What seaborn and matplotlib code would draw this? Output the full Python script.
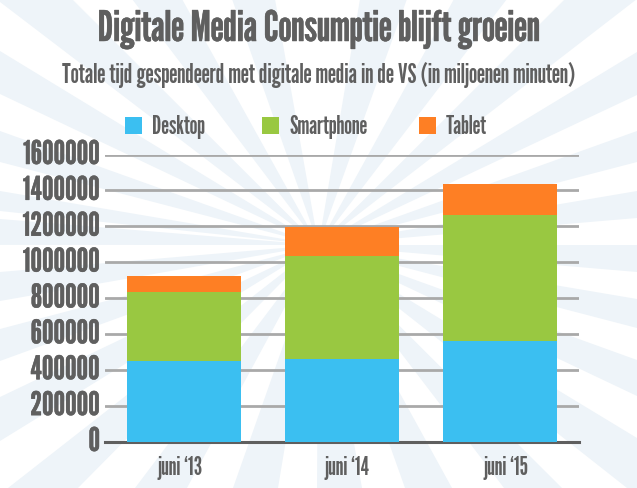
import numpy as np
import pandas as pd
import matplotlib
matplotlib.use("Agg")
import matplotlib.pyplot as plt
import matplotlib.patheffects as pe
from matplotlib.patches import Wedge
from matplotlib.transforms import Affine2D
import seaborn as sns

# waarden
maanden = ["juni \u201813", "juni \u201814", "juni \u201815"]
desktop = [450000, 458000, 558000]
smartphone = [386000, 578000, 706000]
tablet = [89000, 161000, 172000]
yticks = [0, 200000, 400000, 600000, 800000, 1000000, 1200000, 1400000, 1600000]

W, H = 637, 489
sns.set_theme(style="white")
plt.rcParams["font.family"] = ["League Gothic", "Oswald", "Archivo Narrow", "DejaVu Sans"]

GRIJS = "#5f5f5f"
BLAUW = "#3bbff1"
GROEN = "#99c841"
ORANJE = "#fe7f24"
vet = [pe.withStroke(linewidth=0.35, foreground=GRIJS)]

# randpunten van de lichte stralen (achtergrond), met de klok mee
stralen = [
    ((360, 0), (407, 0)), ((454, 0), (507, 0)), ((565, 0), (637, 0)),
    ((637, 53), (637, 96)), ((637, 132), (637, 163)), ((637, 192), (637, 219)),
    ((637, 246), (637, 273)), ((637, 300), (637, 329)), ((637, 361), (637, 397)),
    ((637, 439), (627, 489)), ((562, 489), (504, 489)), ((452, 489), (405, 489)),
    ((362, 489), (317, 489)), ((278, 489), (233, 489)), ((187, 489), (135, 489)),
    ((78, 489), (8, 489)), ((0, 442), (0, 398)), ((0, 362), (0, 330)),
    ((0, 302), (0, 273)), ((0, 245.9), (0, 220)), ((0, 212), (0, 192)),
    ((0, 163), (0, 132)), ((0, 95), (0, 52)), ((0, 3), (72, 0)),
    ((132, 0), (182, 0)), ((232, 0), (275, 0)),
]
midden = (318.5, 246)

fig = plt.figure(figsize=(W / 100, H / 100), dpi=100, facecolor="white")

bg = fig.add_axes([0, 0, 1, 1], zorder=0)
bg.set_xlim(0, W)
bg.set_ylim(H, 0)
bg.axis("off")
for p1, p2 in stralen:
    a1 = np.degrees(np.arctan2(p1[1] - midden[1], p1[0] - midden[0]))
    a2 = np.degrees(np.arctan2(p2[1] - midden[1], p2[0] - midden[0]))
    bg.add_patch(Wedge(midden, 900, a1, a2, color="#eef4f9", lw=0))

ax = fig.add_axes([105 / W, 1 - 442.5 / H, 474 / W, 287 / H], zorder=1)
ax.patch.set_alpha(0)

df = pd.DataFrame({"maand": maanden, "desktop": desktop, "smartphone": smartphone, "tablet": tablet})
onder = df["desktop"] + df["smartphone"]
sns.barplot(data=df, x="maand", y="desktop", color=BLAUW, saturation=1, width=0.72, linewidth=0, ax=ax, zorder=3)
sns.barplot(data=df, x="maand", y="smartphone", bottom=df["desktop"], color=GROEN, saturation=1, width=0.72, linewidth=0, ax=ax, zorder=3)
sns.barplot(data=df, x="maand", y="tablet", bottom=onder, color=ORANJE, saturation=1, width=0.72, linewidth=0, ax=ax, zorder=3)

ax.set_xlim(-0.5, 2.5)
ax.set_ylim(0, 1600000)
ax.set_yticks(yticks, [str(v) for v in yticks])
ax.set_xticks([-0.022, 1.032, 2.038], maanden)
ax.set_xlabel("")
ax.set_ylabel("")
ax.yaxis.grid(True, color="#a9a9a9", lw=2, zorder=1)
ax.set_axisbelow(True)
sns.despine(ax=ax, left=True, right=True, top=True)
ax.spines["bottom"].set_color(GRIJS)
ax.spines["bottom"].set_linewidth(2.2)
ax.tick_params(axis="y", length=0, pad=3.5, labelsize=23.5, labelcolor=GRIJS)
ax.tick_params(axis="x", length=0, pad=10, labelsize=17.5, labelcolor=GRIJS)
for t in ax.get_yticklabels():
    t.set_path_effects(vet)
    t.set_transform(t.get_transform() + Affine2D().translate(0, 2.5))

# titels
fig.text(319 / W, 1 - 31 / H, "Digitale Media Consumptie blijft groeien", ha="center", va="center",
         fontsize=30.3, color=GRIJS, path_effects=vet)
fig.text(319 / W, 1 - 75 / H, "Totale tijd gespendeerd met digitale media in de VS (in miljoenen minuten)",
         ha="center", va="center", fontsize=19, color=GRIJS)

# legenda
for x, kleur, naam in [(125, BLAUW, "Desktop"), (262, GROEN, "Smartphone"), (419, ORANJE, "Tablet")]:
    bg.add_patch(plt.Rectangle((x, 118), 17, 17, color=kleur, lw=0))
    bg.text(x + 27, 127, naam, va="center", fontsize=18, color=GRIJS)

fig.savefig("out.png", dpi=100)
